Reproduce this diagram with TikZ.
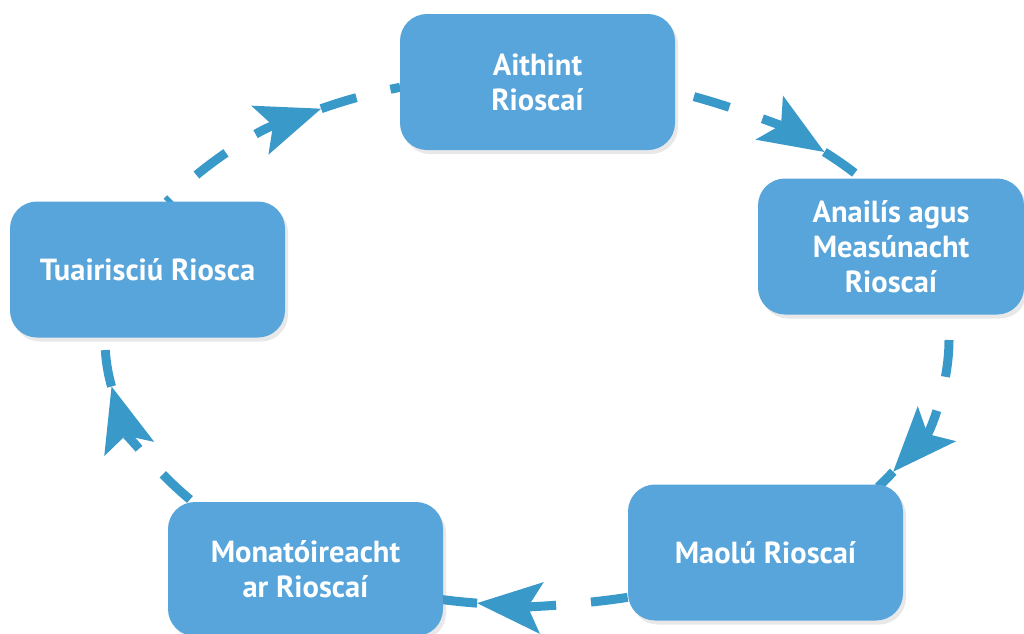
\documentclass[tikz,border=0pt]{standalone}
\usepackage{fontspec}
\setmainfont{PT Sans}
\usetikzlibrary{arrows.meta,shadows,calc}
\definecolor{boxblue}{RGB}{87,165,219}
\definecolor{linkblue}{RGB}{57,153,200}
\begin{document}
\begin{tikzpicture}[x=1pt,y=-1pt,
  stage/.style={draw=none, fill=boxblue, rounded corners=27pt,
    minimum width=275pt, minimum height=136pt, inner sep=0pt,
    text=white, font=\fontsize{30.5}{35}\selectfont\bfseries, align=center,
    drop shadow={shadow xshift=3pt, shadow yshift=-4pt, opacity=0.18}},
  link/.style={draw=linkblue, line width=9pt, dash pattern=on 37pt off 35pt},
  tipped/.style={-{Stealth[length=65pt,width=52pt,inset=14pt,line width=0pt]}},
  ell/.style={x radius=422, y radius=265}
  ]
\useasboundingbox (0,0) rectangle (1024,633);
\coordinate (O) at (527,340);
% connectors
\draw[link,tipped] ($(O)+(-66.7:422 and 265)$) arc[start angle=-66.7, end angle=-45.2, ell];
\draw[link] ($(O)+(-45.2:422 and 265)$) arc[start angle=-45.2, end angle=-37, ell];
\draw[link,tipped] ($(O)+(0:422 and 265)$) arc[start angle=0, end angle=29.8, ell];
\draw[link] ($(O)+(29.8:422 and 265)$) arc[start angle=29.8, end angle=33.7, ell];
\draw[link,tipped] ($(O)+(76.2:422 and 265)$) arc[start angle=76.2, end angle=96.8, ell];
\draw[link] ($(O)+(96.8:422 and 265)$) arc[start angle=96.8, end angle=101.6, ell];
\draw[link,tipped] ($(O)+(143:422 and 265)$) arc[start angle=143, end angle=169.9, ell];
\draw[link] ($(O)+(169.9:422 and 265)$) arc[start angle=169.9, end angle=180.6, ell];
\draw[link,tipped,dash phase=32pt] ($(O)+(211.4:422 and 265)$) arc[start angle=211.4, end angle=240.8, ell];
\draw[link] ($(O)+(240.8:422 and 265)$) arc[start angle=240.8, end angle=252.5, ell];
% boxes
\node[stage] (A) at (537.5,82) {Aithint\\Rioscaí};
\node[stage, minimum width=266pt] (B) at (891,246.5) {Anailís agus\\Measúnacht\\Rioscaí};
\node[stage] (C) at (765.5,552.5) {Maolú Rioscaí};
\node[stage, minimum height=134pt] (D) at (305.5,569) {Monatóireacht\\ar Rioscaí};
\node[stage] (E) at (147.5,269.5) {Tuairisciú Riosca};
\end{tikzpicture}
\end{document}
